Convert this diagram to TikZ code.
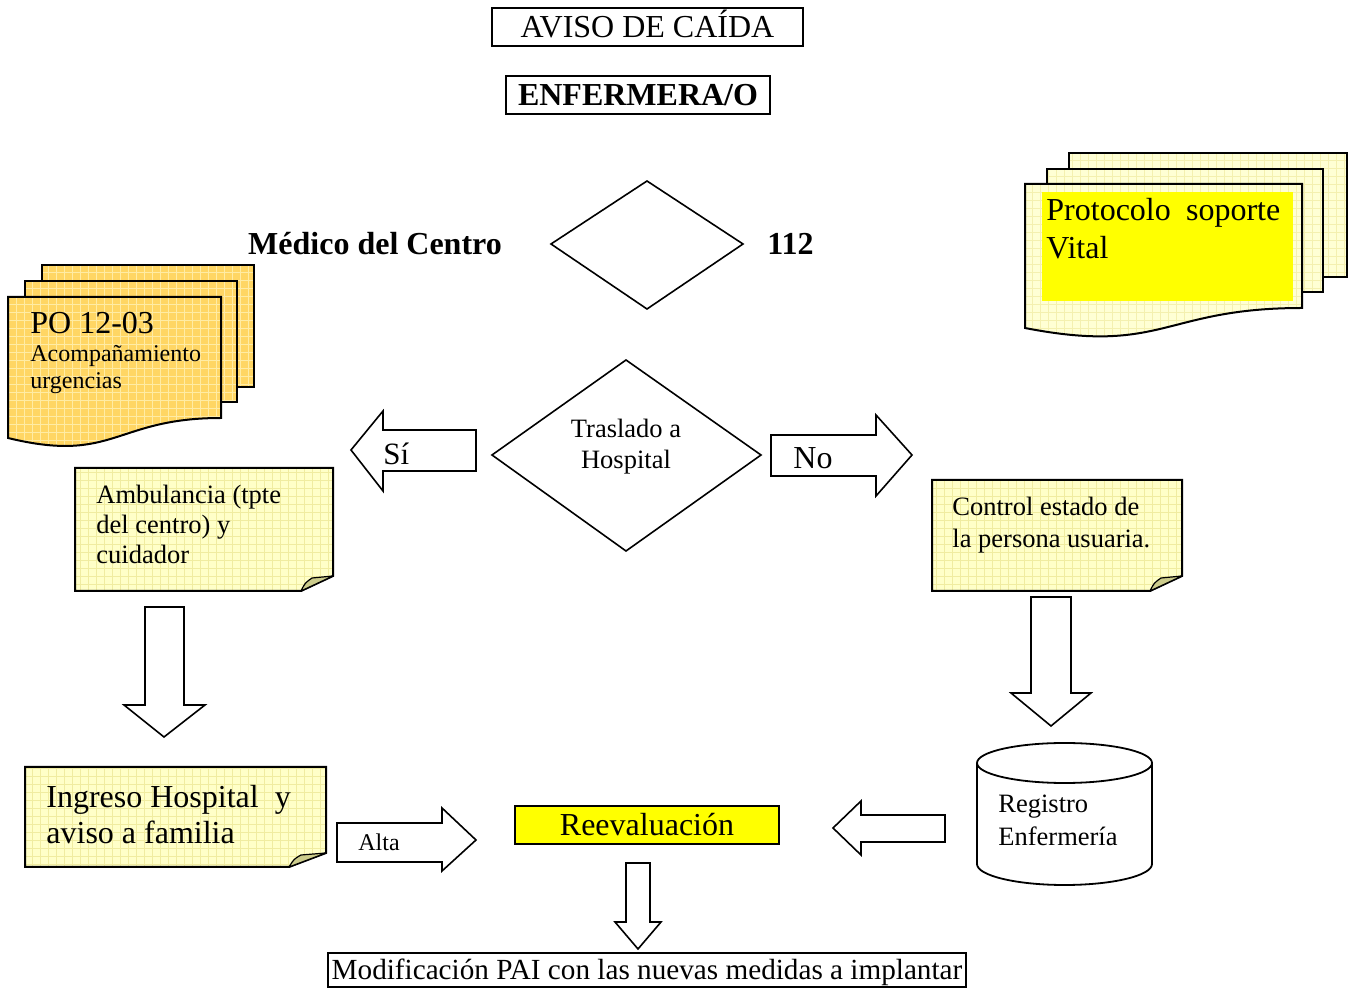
\documentclass[tikz,border=0pt]{standalone}
\usepackage{fontspec}
\setmainfont{Liberation Serif}
\definecolor{pofill}{RGB}{255,214,100}
\definecolor{pogrid}{RGB}{255,236,165}
\definecolor{notefill}{RGB}{255,255,200}
\definecolor{notegrid}{RGB}{240,236,160}
\definecolor{pagefill}{RGB}{255,255,212}
\definecolor{pagegrid}{RGB}{244,240,175}
\definecolor{foldfill}{RGB}{204,204,140}
\definecolor{hiyellow}{RGB}{255,255,0}
\newcommand\paper[4]{%
  \fill[#2] #1;
  \begin{scope}\clip #1;\draw[#3,line width=0.35pt,step=4pt] #4;\end{scope}
  \draw[line width=1pt,line join=miter] #1;}
\tikzset{
  lbl/.style={inner sep=0pt, anchor=base west},
  clbl/.style={inner sep=0pt, anchor=base},
  tbox/.style={draw, line width=0.9pt, inner sep=0pt, text height=13pt, text depth=2pt},
  barrow/.style={draw, fill=white, line width=0.8pt, line join=miter},
  flow/.style={draw, line width=0.8pt, line join=miter},
  fold/.style={fill=foldfill, draw, line width=0.6pt, line join=round},
  f16/.style={font=\fontsize{16}{19}\selectfont},
  f16b/.style={font=\fontsize{16}{19}\selectfont\bfseries},
  f13/.style={font=\fontsize{13.25}{16}\selectfont},
  f12/.style={font=\fontsize{12}{14}\selectfont},
}
\begin{document}
\begin{tikzpicture}[x=0.5pt,y=-0.5pt]
\useasboundingbox (0,0) rectangle (1356,988);

% ---- title boxes
\node[tbox, f16, minimum width=155.5pt, minimum height=19pt] (aviso) at (647.5,27) {AVISO DE CAÍDA};
\node[tbox, f16b, minimum width=132pt, minimum height=19pt] (enf) at (638,95) {ENFERMERA/O};

% ---- first diamond with labels
\draw[flow] (551,244) -- (647,181) -- (743,244) -- (647,309) -- cycle;
\coordinate (d1) at (647,244);
\node[clbl, f16b] (medico) at (375,255) {Médico del Centro};
\node[lbl, f16b] (n112) at (767,255) {112};

% ---- PO 12-03 document stack
\paper{(42,265) rectangle (254,387)}{pofill}{pogrid}{(40,260) grid (260,390)}
\paper{(25,281) rectangle (237,402)}{pofill}{pogrid}{(20,278) grid (240,405)}
\paper{(8,297) -- (221,297) -- (221,418) .. controls (114.5,418) and (114.5,464) .. (8,438) -- cycle}{pofill}{pogrid}{(4,292) grid (224,470)}
\node[lbl, f16] (po1) at (30,334) {PO 12-03};
\node[lbl, f12] (po2) at (30,362) {Acompañamiento};
\node[lbl, f12] (po3) at (30,389) {urgencias};

% ---- Protocolo soporte vital stack
\paper{(1069,153) rectangle (1347,277)}{pagefill}{pagegrid}{(1064,148) grid (1352,280)}
\paper{(1047,169) rectangle (1323,292)}{pagefill}{pagegrid}{(1044,164) grid (1328,296)}
\paper{(1025,184) -- (1302,184) -- (1302,308) .. controls (1163.5,308) and (1163.5,355) .. (1025,328) -- cycle}{pagefill}{pagegrid}{(1020,180) grid (1308,360)}
\fill[hiyellow] (1042,192) rectangle (1293,301);
\node[lbl, f16] (prot1) at (1046,221) {Protocolo\hspace{7.6pt}soporte};
\node[lbl, f16] (prot2) at (1046,259) {Vital};

% ---- second diamond
\draw[flow] (492,455) -- (626,360) -- (761,455) -- (626,551) -- cycle;
\node[clbl, f13] (tras1) at (626,438) {Traslado a};
\node[clbl, f13] (tras2) at (626,469) {Hospital};

% ---- Si / No block arrows
\draw[barrow] (351,450) -- (383,411) -- (383,430) -- (476,430) -- (476,471) -- (383,471) -- (383,491) -- cycle;
\node[lbl, font=\fontsize{15.5}{18}\selectfont] (si) at (383,465) {Sí};
\draw[barrow] (771,435) -- (876,435) -- (876,415) -- (912,455) -- (876,496) -- (876,476) -- (771,476) -- cycle;
\node[lbl, f16] (no) at (793,469) {No};

% ---- Ambulancia note
\paper{(75,468) -- (333,468) -- (333,576) -- (301,591) -- (75,591) -- cycle}{notefill}{notegrid}{(72,464) grid (336,594)}
\draw[fold] (301,591) .. controls (305,583) .. (312,578) -- (333,576) -- cycle;
\node[lbl, f13] (amb1) at (96,504) {Ambulancia (tpte};
\node[lbl, f13] (amb2) at (96,534) {del centro) y};
\node[lbl, f13] (amb3) at (96,564) {cuidador};

% ---- Control note
\paper{(932,480) -- (1182,480) -- (1182,576) -- (1150,591) -- (932,591) -- cycle}{notefill}{notegrid}{(928,476) grid (1186,594)}
\draw[fold] (1150,591) .. controls (1154,583) .. (1161,578) -- (1182,576) -- cycle;
\node[lbl, f13] (ctl1) at (952,516) {Control estado de};
\node[lbl, f13] (ctl2) at (952,548) {la persona usuaria.};

% ---- down arrows
\draw[barrow] (145,607) -- (184,607) -- (184,705) -- (205,705) -- (164,737) -- (124,705) -- (145,705) -- cycle;
\draw[barrow] (1031,597) -- (1071,597) -- (1071,693) -- (1091,693) -- (1051,726) -- (1011,693) -- (1031,693) -- cycle;

% ---- Ingreso note
\paper{(25,767) -- (326,767) -- (326,853) -- (289,867) -- (25,867) -- cycle}{notefill}{notegrid}{(20,764) grid (330,870)}
\draw[fold] (289,867) .. controls (294,859) .. (301,855) -- (326,853) -- cycle;
\node[lbl, f16] (ing1) at (46,808) {Ingreso Hospital\hspace{8pt}y};
\node[lbl, f16] (ing2) at (46,844) {aviso a familia};

% ---- Alta arrow
\draw[barrow] (337,823) -- (442,823) -- (442,808) -- (476,840) -- (442,871) -- (442,862) -- (337,862) -- cycle;
\node[lbl, f12] (alta) at (358,851) {Alta};

% ---- Reevaluacion
\node[tbox, f16, fill=hiyellow, minimum width=132pt, minimum height=19pt] (reev) at (647,825) {Reevaluación};

% ---- left arrow from cylinder
\draw[barrow] (833,828) -- (861,801) -- (861,815) -- (945,815) -- (945,842) -- (861,842) -- (861,855) -- cycle;

% ---- cylinder
\draw[line width=0.9pt, fill=white] (977,763) -- (977,864) arc[start angle=180, end angle=360, x radius=43.75pt, y radius=10.5pt] -- (1152,763);
\draw[line width=0.9pt] (1064.5,763) ellipse [x radius=43.75pt, y radius=10pt];
\node[lbl, f13] (reg1) at (998,813) {Registro};
\node[lbl, f13] (reg2) at (998,846) {Enfermería};

% ---- bottom arrow and box
\draw[barrow] (626,863) -- (650,863) -- (650,922) -- (661,922) -- (638,949) -- (615,922) -- (626,922) -- cycle;
\node[tbox, text height=11.5pt, text depth=2.5pt, font=\fontsize{14.6}{17}\selectfont, minimum width=319pt, minimum height=17pt] (modif) at (647,970) {Modificación PAI con las nuevas medidas a implantar};
\end{tikzpicture}
\end{document}
